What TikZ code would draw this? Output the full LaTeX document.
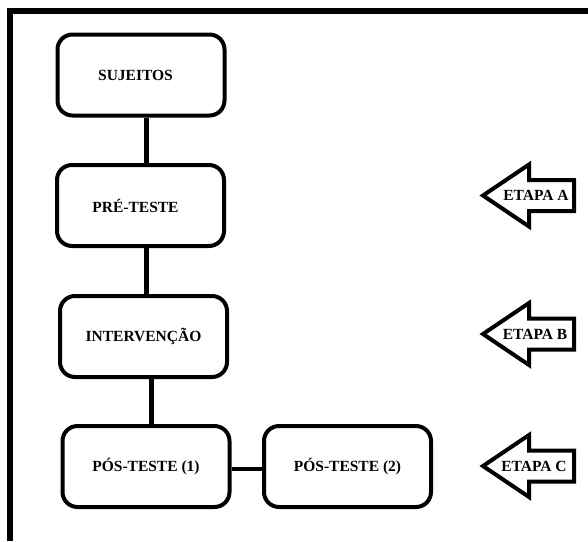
\documentclass[tikz,border=0pt]{standalone}
\usepackage{fontspec}
\setmainfont{Liberation Serif}
\begin{document}
\begin{tikzpicture}[x=1pt,y=-1pt,
  box/.style={draw,line width=4pt,rounded corners=15pt,minimum width=167pt,
    minimum height=81pt,inner sep=0pt,font=\bfseries\fontsize{15.5}{18}\selectfont},
  conn/.style={line width=4.5pt},
  stagearrow/.style={draw,line width=4pt,line join=miter,fill=white},
  stagelabel/.style={inner sep=0pt,font=\bfseries\fontsize{15.5}{18}\selectfont}]
\useasboundingbox (0,0) rectangle (588,541);

% outer frame (top and left sides)
\draw[line width=6pt,line join=miter] (10,541) -- (10,11) -- (588,11);

% flow boxes
\node[box] (suj) at (141,75)    {SUJEITOS\hspace*{11pt}};
\node[box] (pre) at (140.5,205.5) {PRÉ-TESTE\hspace*{10pt}};
\node[box] (int) at (143.5,336.5) {INTERVENÇÃO};
\node[box] (pos1) at (146,466.5)  {PÓS-TESTE (1)};
\node[box] (pos2) at (347.5,466.5) {PÓS-TESTE (2)};

% connectors
\draw[conn] ([xshift=5.7pt]suj.south) -- ([xshift=5.7pt]suj.south |- pre.north);
\draw[conn] ([xshift=6.2pt]pre.south) -- ([xshift=6.2pt]pre.south |- int.north);
\draw[conn] ([xshift=8.2pt]int.south) -- ([xshift=8.2pt]int.south |- pos1.north);
\draw[conn] ([yshift=-2.5pt]pos1.east) -- ([yshift=-2.5pt]pos1.east -| pos2.west);

% stage arrows
\foreach \cy/\nm/\txt/\tx in {195.5/etapaA/ETAPA A/536, 334/etapaB/ETAPA B/535, 466/etapaC/ETAPA C/534}{
  \draw[stagearrow] (483,\cy) -- (529,\cy-31) -- (529,\cy-15.5) -- (574,\cy-15.5)
    -- (574,\cy+15.5) -- (529,\cy+15.5) -- (529,\cy+31) -- cycle;
  \node[stagelabel] (\nm) at (\tx,\cy) {\txt};
}
\end{tikzpicture}
\end{document}
